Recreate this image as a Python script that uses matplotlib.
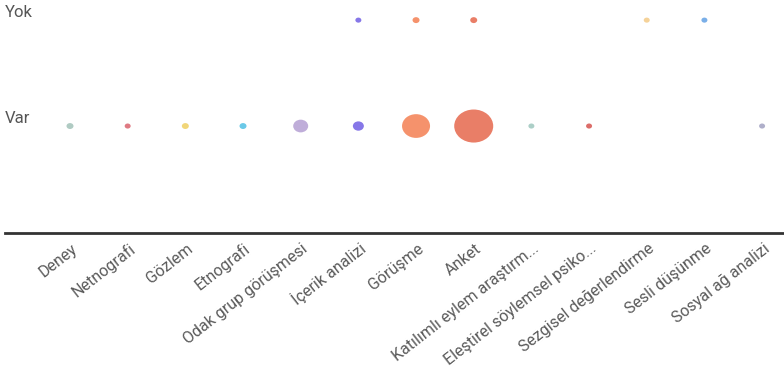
import numpy as np
import matplotlib
matplotlib.use("Agg")
import matplotlib.pyplot as plt
from matplotlib.path import Path
from matplotlib.markers import MarkerStyle
from matplotlib.transforms import ScaledTranslation

plt.rcParams['font.family'] = ['Roboto', 'DejaVu Sans']

categories = ["Deney", "Netnografi", "Gözlem", "Etnografi", "Odak grup görüşmesi",
              "İçerik analizi", "Görüşme", "Anket", "Katılımlı eylem araştırm...",
              "Eleştirel söylemsel psiko...", "Sezgisel değerlendirme",
              "Sesli düşünme", "Sosyal ağ analizi"]
rows = ["Var", "Yok"]
var_values = [2, 1, 2, 2, 10, 6, 23, 34, 1, 1, 0, 0, 1]
yok_values = [0, 0, 0, 0, 0, 1, 2, 2, 0, 0, 1, 1, 0]
colors = ["#a9c7be", "#dd6f78", "#f0d36e", "#5ec5e6", "#baa6d6", "#7c6be6",
          "#f5895f", "#e8735a", "#a5cbc3", "#d9615c", "#f5cf90", "#6fa8e6",
          "#a8a8c6"]

fig = plt.figure(figsize=(7.84, 3.71), dpi=100)
ax = fig.add_axes([5/784, 1 - 233/371, 1 - 5/784, 233/371])

x = np.arange(len(categories))
ax.set_xlim(-1.127, 12.38)
ax.set_ylim(-1.01, 1.19)

# ellipse-shaped marker (chart appears horizontally stretched)
circ = Path.unit_circle()
ell = Path(circ.vertices * np.array([1.18, 1.0]), circ.codes)
marker = MarkerStyle(ell)

vmin, vmax = 1, max(var_values)
rmin, rmax = 3.0, 19.5  # horizontal pixel radius range


def size_of(v):
    r = rmin + (v - vmin) / (vmax - vmin) * (rmax - rmin)
    d_pt = 2 * r * 0.72
    return d_pt ** 2


for row_idx, vals in enumerate([var_values, yok_values]):
    for i, v in enumerate(vals):
        if v > 0:
            ax.scatter(x[i], row_idx, s=size_of(v), marker=marker,
                       color=colors[i], edgecolors='none', alpha=0.92, zorder=3)

for sp in ['top', 'right', 'left']:
    ax.spines[sp].set_visible(False)
ax.spines['bottom'].set_color('#333333')
ax.spines['bottom'].set_linewidth(2)
ax.set_yticks([])

for row_idx, name in enumerate(rows):
    ax.text(0.0, row_idx, name, transform=ax.get_yaxis_transform(),
            ha='left', va='bottom', fontsize=12, color='#555555')

ax.set_xticks(x)
ax.set_xticklabels(categories, rotation=38, ha='right', va='center',
                   rotation_mode='anchor', fontsize=11.5, color='#5a5a5a')
ax.tick_params(axis='x', length=0, pad=10)
for lab in ax.get_xticklabels():
    lab.set_transform(lab.get_transform() + ScaledTranslation(4/72, 0, fig.dpi_scale_trans))

fig.savefig("out.png", dpi=100)
